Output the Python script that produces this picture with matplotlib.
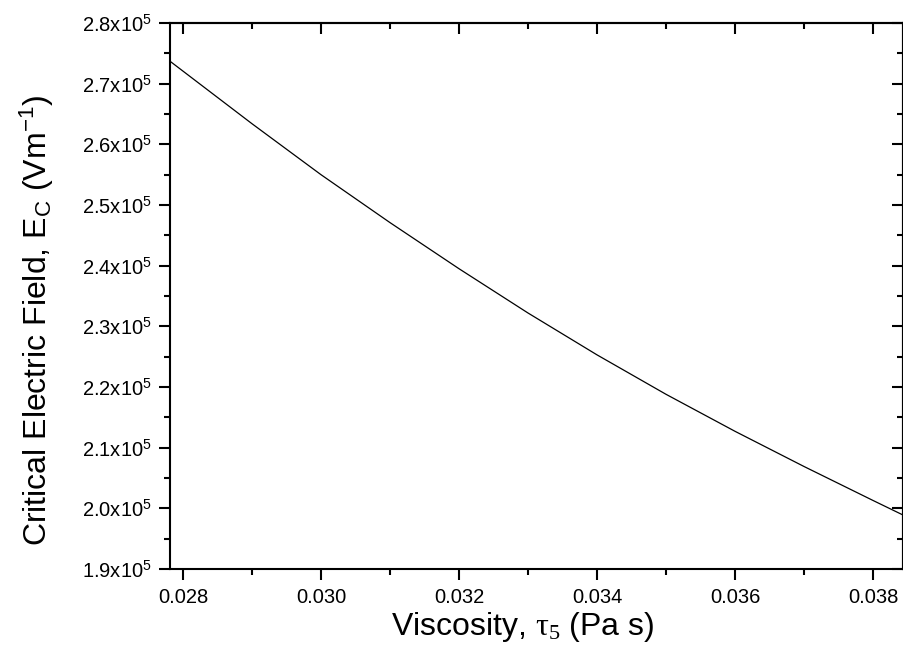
import matplotlib
matplotlib.use("Agg")
import matplotlib.pyplot as plt
from matplotlib.ticker import MultipleLocator, FuncFormatter

plt.rcParams['font.family'] = ['Liberation Sans', 'DejaVu Sans']
plt.rcParams['mathtext.fontset'] = 'custom'
plt.rcParams['mathtext.rm'] = 'Liberation Sans'
plt.rcParams['mathtext.it'] = 'Liberation Sans:italic'
plt.rcParams['mathtext.sf'] = 'Liberation Serif'

viscosity = [0.027812, 0.029, 0.030, 0.031, 0.032, 0.033, 0.034, 0.035, 0.036, 0.037, 0.038, 0.038435]
e_field = [2.737e5, 2.634e5, 2.550e5, 2.471e5, 2.395e5, 2.322e5, 2.253e5, 2.188e5, 2.127e5, 2.069e5, 2.013e5, 1.989e5]

x_ticks = [0.028, 0.030, 0.032, 0.034, 0.036, 0.038]
y_ticks = [1.9e5, 2.0e5, 2.1e5, 2.2e5, 2.3e5, 2.4e5, 2.5e5, 2.6e5, 2.7e5, 2.8e5]

fig = plt.figure(figsize=(9.04, 6.55), dpi=100)
ax = fig.add_axes([170/904, 1-569/655, 733/904, 546/655])
ax.plot(viscosity, e_field, color='black', linewidth=0.9)
ax.set_xlim(0.027812, 0.038435)
ax.set_ylim(1.9e5, 2.8e5)

ax.set_xticks(x_ticks)
ax.set_yticks(y_ticks)
ax.xaxis.set_minor_locator(MultipleLocator(0.001))
ax.yaxis.set_minor_locator(MultipleLocator(0.05e5))
ax.xaxis.set_major_formatter(FuncFormatter(lambda v, p: f"{v:.3f}"))
ax.yaxis.set_major_formatter(FuncFormatter(lambda v, p: f"{v/1e5:.1f}x10$^{{5}}$"))

for s in ax.spines.values():
    s.set_linewidth(1.5)

ax.tick_params(which='both', direction='out', width=1.5, labelsize=14.5)
ax.tick_params(axis='x', pad=6)
ax.tick_params(axis='y', pad=5)
ax.tick_params(which='major', length=7.7)
ax.tick_params(which='minor', length=4)

secx = ax.secondary_xaxis('top')
secx.set_xticks(x_ticks)
secx.xaxis.set_minor_locator(MultipleLocator(0.001))
secx.tick_params(which='both', direction='in', width=1.5, labeltop=False)
secx.tick_params(which='major', length=7.7)
secx.tick_params(which='minor', length=4)
secx.spines['top'].set_linewidth(1.5)

secy = ax.secondary_yaxis('right')
secy.set_yticks(y_ticks)
secy.yaxis.set_minor_locator(MultipleLocator(0.05e5))
secy.tick_params(which='both', direction='in', width=1.5, labelright=False)
secy.tick_params(which='major', length=7.7)
secy.tick_params(which='minor', length=4)
secy.spines['right'].set_linewidth(1.5)

ax.set_xlabel(r'Viscosity, $\mathsf{\tau_5}$ (Pa s)', fontsize=23)
ax.set_ylabel(r'Critical Electric Field, E$_\mathrm{C}$ (Vm$^{-1}$)', fontsize=23)
ax.xaxis.set_label_coords(0.4816, -0.075)
ax.yaxis.set_label_coords(-0.155, 0.456)

fig.savefig('out.png', dpi=100)
